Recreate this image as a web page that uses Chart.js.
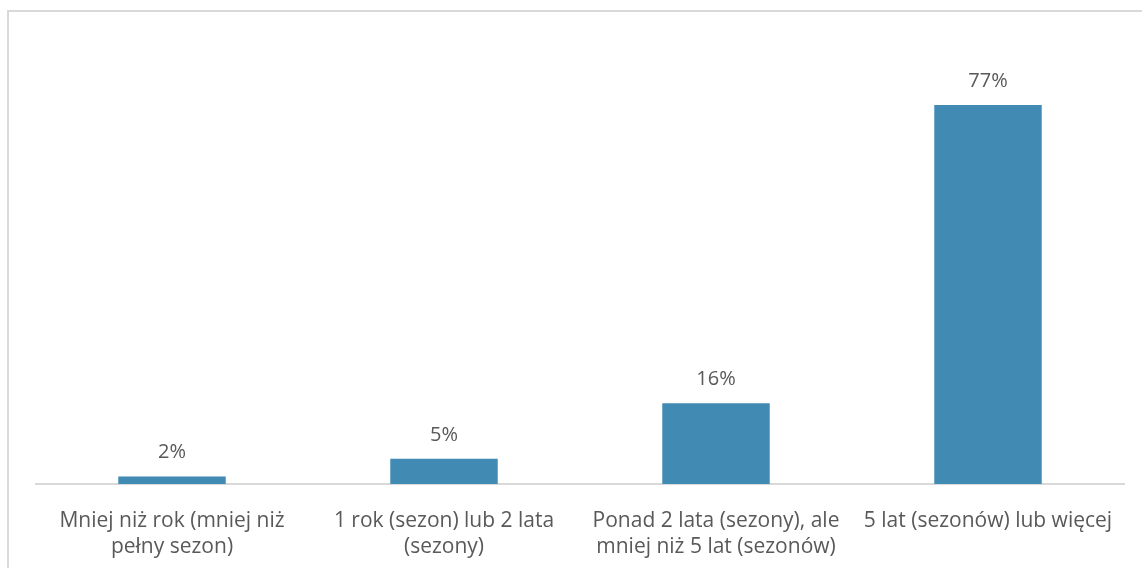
<!DOCTYPE html>
<html>
<head>
<meta charset="utf-8">
<script src="https://cdn.jsdelivr.net/npm/chart.js@4"></script>
<style>
  html, body { margin: 0; padding: 0; background: #fff; }
  #wrap { position: relative; width: 1142px; height: 568px; overflow: hidden; }
  #frame { position: absolute; left: 7px; top: 10px; width: 1200px; height: 600px;
           border-left: 2px solid #d9d9d9; border-top: 2px solid #d9d9d9; }
  canvas { position: absolute; left: 0; top: 0; }
</style>
</head>
<body>
<div id="wrap">
  <div id="frame"></div>
  <canvas id="myChart" width="1142" height="579"></canvas>
</div>
<script>
// categories (two lines each) and shares in percent
const categories = [
    ["Mniej niż rok (mniej niż", "pełny sezon)"],
    ["1 rok (sezon) lub 2 lata", "(sezony)"],
    ["Ponad 2 lata (sezony), ale", "mniej niż 5 lat (sezonów)"],
    ["5 lat (sezonów) lub więcej"]
];
const shares = [1.5, 5.1, 16.4, 77.0];

const barColor = '#418ab3';
const textColor = '#595959';
const fontFamily = '"Open Sans", Lato, sans-serif';

// draws the % labels above each bar
const valueLabels = {
    id: 'valueLabels',
    afterDatasetsDraw(chart) {
        const ctx = chart.ctx;
        const meta = chart.getDatasetMeta(0);
        ctx.save();
        ctx.fillStyle = textColor;
        ctx.font = '20px ' + fontFamily;
        ctx.textAlign = 'center';
        ctx.textBaseline = 'middle';
        meta.data.forEach((bar, i) => {
            ctx.fillText(Math.round(shares[i]) + '%', bar.x, bar.y - 24);
        });
        ctx.restore();
    }
};

const ctx = document.getElementById('myChart').getContext('2d');
const myChart = new Chart(ctx, {
    type: 'bar',
    data: {
        labels: categories,
        datasets: [{
            data: shares,
            backgroundColor: barColor,
            borderWidth: 0,
            barPercentage: 0.395,
            categoryPercentage: 1
        }]
    },
    options: {
        responsive: false,
        animation: false,
        layout: { padding: { left: 36, right: 18, top: 41, bottom: 3 } },
        plugins: {
            legend: { display: false },
            tooltip: { enabled: false }
        },
        scales: {
            x: {
                grid: { display: false },
                border: { color: '#d9d9d9', width: 2 },
                ticks: {
                    color: textColor,
                    font: { family: fontFamily, size: 21, lineHeight: 1.24 },
                    padding: 16,
                    maxRotation: 0,
                    autoSkip: false
                }
            },
            y: {
                display: false,
                min: 0,
                max: 90
            }
        }
    },
    plugins: [valueLabels]
});
</script>
</body>
</html>
